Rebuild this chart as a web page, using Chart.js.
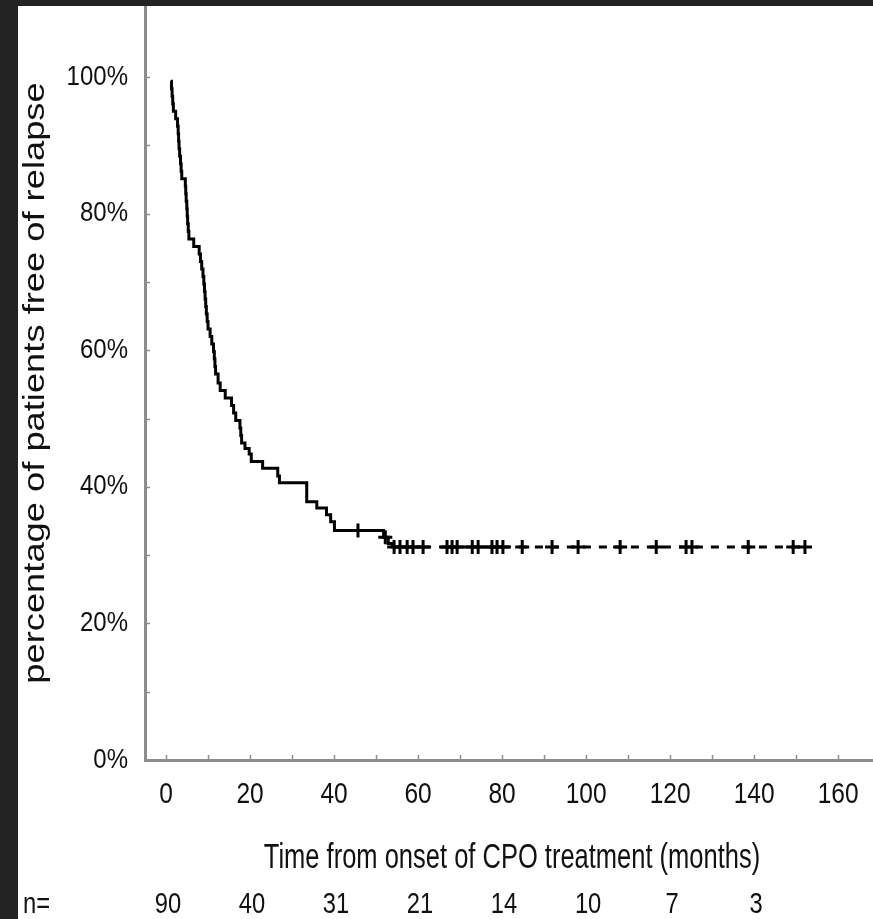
<!DOCTYPE html>
<html>
<head>
<meta charset="utf-8">
<script src="https://cdn.jsdelivr.net/npm/chart.js@4.4.1/dist/chart.umd.min.js"></script>
<style>
  html, body { margin: 0; padding: 0; background: #232323; width: 873px; height: 919px; overflow: hidden; }
  #wrap { position: absolute; left: 18px; top: 6px; width: 855px; height: 913px; background: #ffffff; }
</style>
</head>
<body>
<div id="wrap"><canvas id="km"></canvas></div>
<script>
// Kaplan-Meier relapse-free curve: event times (months) and survival (%) after each drop
const kmMonths = [1.1, 1.3, 1.45, 1.6, 1.75, 2.3, 2.75, 2.9, 3.0, 3.1,
  3.25, 3.45, 3.6, 3.75, 4.6, 4.7, 4.8, 4.95, 5.05, 5.15,
  5.3, 5.45, 6.6, 7.9, 8.2, 8.5, 8.8, 9.0, 9.15, 9.3,
  9.45, 9.6, 9.8, 10.0, 10.5, 10.9, 11.3, 11.5, 11.65, 11.8,
  12.4, 12.9, 14.1, 15.6, 16.1, 16.6, 17.6, 17.8, 18.0, 18.8,
  19.8, 20.3, 23.0, 26.6, 27.0, 33.5, 35.9, 38.2, 39.2, 40.1,
  51.8, 52.9, 53.9];
const kmSurvival = [99.4, 98.3, 97.2, 96.1, 95.0, 93.9, 92.8, 91.7, 90.6, 89.5,
  88.4, 87.3, 86.2, 85.1, 84.0, 82.9, 81.8, 80.7, 79.6, 78.5,
  77.4, 76.3, 75.2, 74.1, 73.0, 71.9, 70.8, 69.7, 68.6, 67.5,
  66.4, 65.3, 64.2, 63.1, 62.0, 60.9, 59.8, 58.7, 57.6, 56.5,
  55.2, 54.1, 53.0, 51.9, 50.8, 49.7, 48.6, 47.5, 46.4, 45.6,
  44.8, 43.7, 42.7, 41.6, 40.6, 37.8, 36.9, 35.9, 34.9, 33.6,
  32.6, 31.7, 31.2];

// Censored observations (months)
const censorMonths = [45.7, 52.2, 54.3, 55.7, 57.4, 58.8, 61.2, 66.9, 68.1, 69.3,
  72.9, 74.3, 77.6, 78.8, 80.2, 84.8, 91.9, 98.1, 108.1, 116.7,
  123.8, 125.2, 138.6, 149.3, 152.1];

// Axis ticks, titles and patients at risk
const xTickValues = [0, 20, 40, 60, 80, 100, 120, 140, 160];
const yTickValues = [0, 20, 40, 60, 80, 100];
const atRiskMonths = [0, 20, 40, 60, 80, 100, 120, 140];
const atRiskCounts = [90, 40, 31, 21, 14, 10, 7, 3];
const xTitle = 'Time from onset of CPO treatment (months)';
const yTitle = 'percentage of patients free of relapse';

function survivalAt(t) {
  let s = kmSurvival[0];
  for (let i = 0; i < kmMonths.length; i++) {
    if (kmMonths[i] <= t) s = kmSurvival[i];
  }
  return s;
}

const censorPoints = censorMonths.map(t => ({ x: t, y: survivalAt(t) }));
const curvePoints = kmMonths.map((t, i) => ({ x: t, y: kmSurvival[i] }))
  .concat(censorPoints)
  .sort((a, b) => a.x - b.x);

const AXIS_GREY = '#8c8c8c';
const TEXT = '#111111';
const FAMILY = '"Liberation Sans", Arial, sans-serif';

// text with independent horizontal / vertical glyph scaling (tall, narrow lettering)
function label(ctx, str, x, y, size, sx, sy, align, rot) {
  ctx.save();
  ctx.translate(x, y);
  if (rot) ctx.rotate(rot);
  ctx.scale(sx, sy);
  ctx.font = size + 'px ' + FAMILY;
  ctx.textAlign = align;
  ctx.textBaseline = 'middle';
  ctx.fillStyle = TEXT;
  ctx.fillText(str, 0, 0);
  ctx.restore();
}

// inward tick marks on both axes, tick labels, axis titles and the at-risk row
const axisExtras = {
  id: 'axisExtras',
  afterDraw(chart) {
    const ctx = chart.ctx;
    const xs = chart.scales.x, ys = chart.scales.y;
    const area = chart.chartArea;
    ctx.save();
    ctx.strokeStyle = AXIS_GREY;
    ctx.lineWidth = 1.5;
    for (let v = 0; v <= 160; v += 10) {
      const px = Math.round(xs.getPixelForValue(v)) + 0.5;
      ctx.beginPath();
      ctx.moveTo(px, area.bottom);
      ctx.lineTo(px, area.bottom - 5);
      ctx.stroke();
    }
    for (let v = 0; v <= 100; v += 10) {
      const py = Math.round(ys.getPixelForValue(v)) + 0.5;
      ctx.beginPath();
      ctx.moveTo(area.left, py);
      ctx.lineTo(area.left + 5, py);
      ctx.stroke();
    }
    ctx.restore();

    yTickValues.forEach(v => label(ctx, v + '%', area.left - 17, ys.getPixelForValue(v), 24, 1, 1.16, 'right'));
    xTickValues.forEach(v => label(ctx, String(v), xs.getPixelForValue(v), area.bottom + 35, 25, 0.98, 1.2, 'center'));
    label(ctx, xTitle, (area.left + area.right) / 2 + 3, area.bottom + 98, 30, 0.85, 1.16, 'center');
    label(ctx, yTitle, 18, (area.top + area.bottom) / 2, 30, 1.21, 1, 'center', -Math.PI / 2);

    const rowY = area.bottom + 145;
    label(ctx, 'n=', 5, rowY, 25, 0.95, 1.2, 'left');
    atRiskMonths.forEach((m, i) => {
      label(ctx, String(atRiskCounts[i]), xs.getPixelForValue(m) + 2, rowY, 25, 0.95, 1.2, 'center');
    });
  }
};

new Chart(document.getElementById('km'), {
  data: {
    datasets: [
      {
        type: 'line',
        data: curvePoints,
        borderColor: '#000000',
        borderWidth: 3,
        pointRadius: 0,
        stepped: 'before',
        fill: false,
        segment: {
          borderDash: c => {
            const x0 = c.p0.parsed.x;
            return ((x0 >= 61.2 && x0 < 66.9) || x0 >= 80.2) ? [8, 8] : undefined;
          }
        }
      },
      {
        type: 'scatter',
        data: censorPoints,
        pointStyle: 'cross',
        pointRadius: 7,
        borderWidth: 3,
        borderColor: '#000000',
        backgroundColor: '#000000',
        showLine: false
      }
    ]
  },
  options: {
    responsive: true,
    maintainAspectRatio: false,
    animation: false,
    events: [],
    layout: { padding: 0, autoPadding: false },
    plugins: { legend: { display: false }, tooltip: { enabled: false } },
    scales: {
      x: {
        type: 'linear',
        position: 'bottom',
        min: -5,
        max: 168.3,
        afterFit: s => { s.height = 159; s.paddingLeft = 0; s.paddingRight = 0; },
        afterBuildTicks: s => { s.ticks = xTickValues.map(v => ({ value: v })); },
        grid: { display: false, drawTicks: false },
        border: { display: true, color: AXIS_GREY, width: 3 },
        ticks: { display: false },
        title: { display: false }
      },
      y: {
        type: 'linear',
        min: 0,
        max: 110.4,
        afterFit: s => { s.width = 127; s.paddingTop = 0; s.paddingBottom = 0; },
        afterBuildTicks: s => { s.ticks = yTickValues.map(v => ({ value: v })); },
        grid: { display: false, drawTicks: false },
        border: { display: true, color: AXIS_GREY, width: 3 },
        ticks: { display: false },
        title: { display: false }
      }
    }
  },
  plugins: [axisExtras]
});
</script>
</body>
</html>
